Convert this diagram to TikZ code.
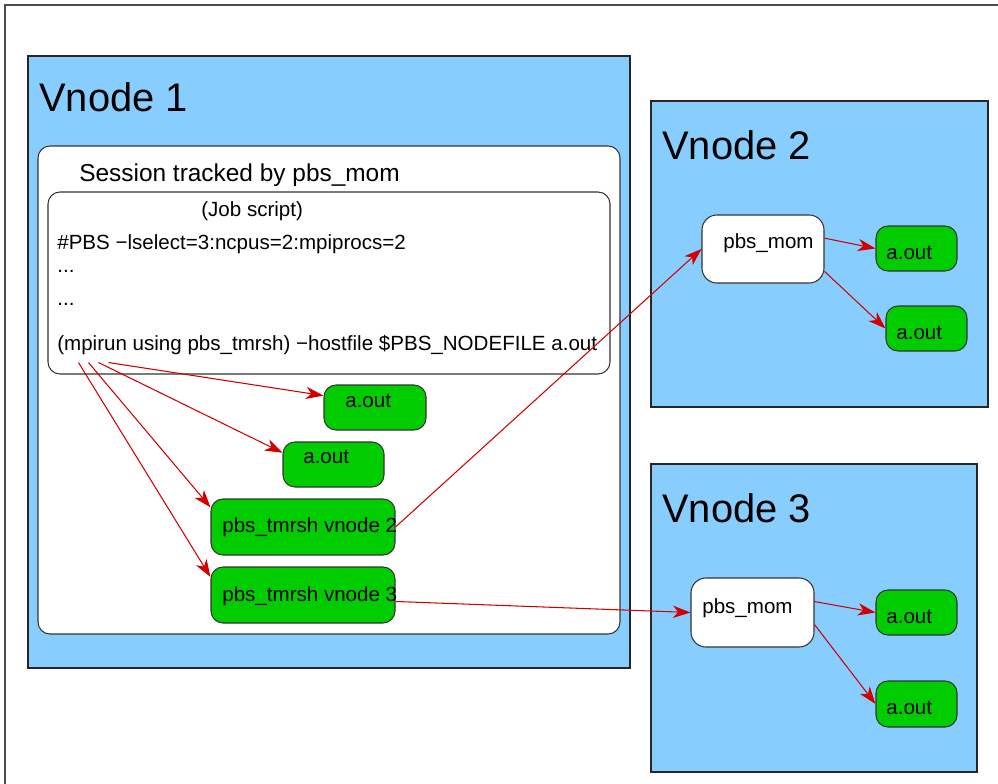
\documentclass[tikz,border=0pt]{standalone}
\usepackage{fontspec}
\setmainfont{Liberation Sans}
\usepackage{tikz}
\usetikzlibrary{arrows.meta, calc}
\usepackage{xcolor}
\definecolor{celeste}{RGB}{135,206,255}
\definecolor{verdeout}{RGB}{0,204,0}
\definecolor{rosso}{RGB}{210,0,0}
\newcommand{\pix}{0.02cm}

\begin{document}
\begin{tikzpicture}[x=0.02cm, y=-0.02cm,
    vnodo/.style={draw=black!85, line width=0.8pt, fill=celeste, inner sep=0pt},
    bianco/.style={draw=black!80, line width=0.6pt, fill=white, rounded corners=6.8pt, inner sep=0pt},
    mom/.style={draw=black!80, line width=0.6pt, fill=white, rounded corners=8.5pt, inner sep=0pt},
    processo/.style={draw=black!80, line width=0.6pt, fill=verdeout, rounded corners=6.8pt, inner sep=0pt},
    testo/.style={anchor=base west, inner sep=0pt, font=\fontsize{11.7}{13}\selectfont},
    titolo/.style={anchor=base west, inner sep=0pt, font=\fontsize{22.7}{27}\selectfont},
    freccia/.style={-{Stealth[length=10pt, width=7pt, inset=3pt]}, draw=rosso, line width=0.6pt}]
    \useasboundingbox (0,0) rectangle (998,784);
    % Cornice
    \coordinate (fa) at (5,784);
    \coordinate (fb) at (5,5);
    \coordinate (fc) at (998,5);
    \draw[black!70, line width=0.9pt] (fa) -- (fb) -- (fc);
    % Vnode 1
    \node[vnodo, minimum width=602*\pix, minimum height=612*\pix] (v1) at (329,362) {};
    \node[titolo] (v1t) at (39,112) {Vnode 1};
    \node[bianco, minimum width=582*\pix, minimum height=488*\pix] (sess) at (329,390) {};
    \node[testo, font=\fontsize{13.9}{16}\selectfont] (sesst) at (79,181) {Session tracked by pbs\_mom};
    \node[bianco, minimum width=562*\pix, minimum height=182*\pix] (job) at (329,283) {};
    \node[testo] (jobt) at (201,216) {(Job script)};
    \node[testo] (riga1) at (57,249) {\#PBS {\char"2212}lselect=3:ncpus=2:mpiprocs=2};
    \node[testo] (riga2) at (57,273) {...};
    \node[testo] (riga3) at (57,305) {...};
    \node[testo] (riga4) at (57,350) {(mpirun using pbs\_tmrsh) {\char"2212}hostfile \$PBS\_NODEFILE a.out};
    \node[processo, minimum width=102*\pix, minimum height=45*\pix] (out1) at (375,407.5) {};
    \node[testo] (out1t) at (345,407) {a.out};
    \node[processo, minimum width=101*\pix, minimum height=45*\pix] (out2) at (333.5,464.5) {};
    \node[testo] (out2t) at (303,463) {a.out};
    \node[processo, minimum width=184*\pix, minimum height=56*\pix] (tm2) at (303,527) {};
    \node[testo] (tm2t) at (222,532) {pbs\_tmrsh vnode 2};
    \node[processo, minimum width=184*\pix, minimum height=56*\pix] (tm3) at (303,595) {};
    \node[testo] (tm3t) at (222,601) {pbs\_tmrsh vnode 3};
    % Vnode 2
    \node[vnodo, minimum width=337*\pix, minimum height=306*\pix] (v2) at (819.5,254) {};
    \node[titolo] (v2t) at (662,160) {Vnode 2};
    \node[mom, minimum width=122*\pix, minimum height=68*\pix] (mom2) at (763,249) {};
    \node[testo] (mom2t) at (723,248) {pbs\_mom};
    \node[processo, minimum width=81*\pix, minimum height=45*\pix] (o21) at (916.5,248.5) {};
    \node[testo] (o21t) at (886,259) {a.out};
    \node[processo, minimum width=81*\pix, minimum height=45*\pix] (o22) at (926.5,328.5) {};
    \node[testo] (o22t) at (896,339) {a.out};
    % Vnode 3
    \node[vnodo, minimum width=326*\pix, minimum height=308*\pix] (v3) at (814,618) {};
    \node[titolo] (v3t) at (662,522) {Vnode 3};
    \node[mom, minimum width=123*\pix, minimum height=69*\pix] (mom3) at (752.5,612.5) {};
    \node[testo] (mom3t) at (702,613) {pbs\_mom};
    \node[processo, minimum width=81*\pix, minimum height=45*\pix] (o31) at (916.5,612.5) {};
    \node[testo] (o31t) at (886,623) {a.out};
    \node[processo, minimum width=81*\pix, minimum height=46*\pix] (o32) at (916.5,704) {};
    \node[testo] (o32t) at (886,714) {a.out};
    % Frecce
    \coordinate (s1) at ($(job.south west)+(61,-12)$);
    \coordinate (s2) at ($(job.south west)+(51,-12)$);
    \coordinate (s3) at ($(job.south west)+(41,-12)$);
    \coordinate (s4) at ($(job.south west)+(31,-12)$);
    \draw[freccia] (s1) -- (out1.167);
    \draw[freccia] (s2) -- (out2.167);
    \draw[freccia] (s3) -- (tm2.168);
    \draw[freccia] (s4) -- (tm3.169);
    \draw[freccia] (tm2.east) -- (mom2.west);
    \draw[freccia] (tm3.-4) -- (mom3.west);
    \draw[freccia] (mom2.10) -- (o21.west);
    \draw[freccia] (mom2.-20) -- (o22.west);
    \draw[freccia] (mom3.10) -- (o31.west);
    \draw[freccia] (mom3.-11) -- (o32.west);
\end{tikzpicture}
\end{document}
